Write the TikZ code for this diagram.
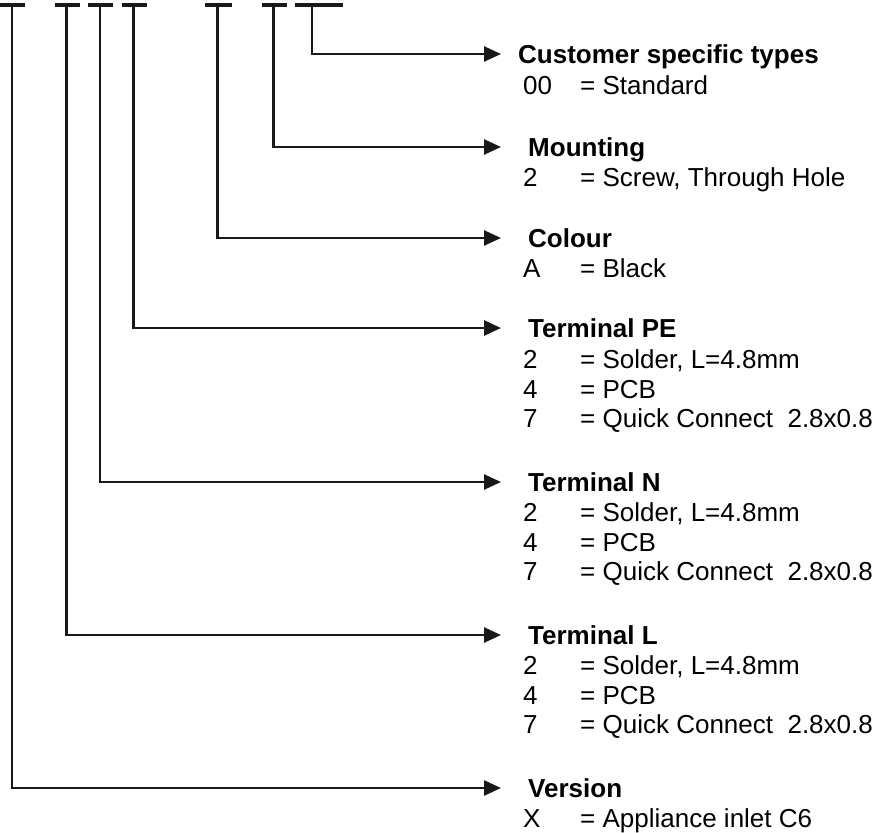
\documentclass[tikz,border=0pt]{standalone}
\usepackage{fontspec}
\setmainfont{Liberation Sans}
\usetikzlibrary{arrows.meta}
\begin{document}
\begin{tikzpicture}[x=1pt,y=-1pt,
  conn/.style={line width=2.6pt,draw=black!90,-{Triangle[length=17pt,width=15pt]}},
  bar/.style={line width=4pt,draw=black!90},
  head/.style={anchor=base west,inner sep=0pt,font=\fontsize{26}{30}\selectfont\bfseries},
  val/.style={anchor=base west,inner sep=0pt,font=\fontsize{26}{30}\selectfont},
]
\useasboundingbox (0,0) rectangle (882,832);
% top bars
\draw[bar] (0,5.5) -- (25,5.5);
\draw[bar] (55,5.5) -- (80,5.5);
\draw[bar] (88,5.5) -- (113,5.5);
\draw[bar] (122,5.5) -- (147,5.5);
\draw[bar] (205,5.5) -- (232,5.5);
\draw[bar] (262,5.5) -- (287,5.5);
\draw[bar] (295,5.5) -- (343,5.5);
% tap points
\coordinate (t1) at (12,5);
\coordinate (t2) at (66.5,5);
\coordinate (t3) at (100,5);
\coordinate (t4) at (133.5,5);
\coordinate (t5) at (217.5,5);
\coordinate (t6) at (273.5,5);
\coordinate (t7) at (312,5);
% arrow ends
\coordinate (a7) at (501,54);
\coordinate (a6) at (501,147);
\coordinate (a5) at (501,238);
\coordinate (a4) at (501,328);
\coordinate (a3) at (501,482);
\coordinate (a2) at (501,635);
\coordinate (a1) at (501,788);
% headings
\node[head] (h7) at (518,63.5) {Customer specific types};
\node[head] (h6) at (528,156.5) {Mounting};
\node[head] (h5) at (528,247.5) {Colour};
\node[head] (h4) at (528,337.5) {Terminal PE};
\node[head] (h3) at (528,491.5) {Terminal N};
\node[head] (h2) at (528,644.5) {Terminal L};
\node[head] (h1) at (528,797.5) {Version};
% values
\node[val] (v7a) at (523,94.5) {00};
\node[val] (d7a) at (580,94.5) {= Standard};
\node[val] (v6a) at (523,186.5) {2};
\node[val] (d6a) at (580,186.5) {= Screw, Through Hole};
\node[val] (v5a) at (523,277.5) {A};
\node[val] (d5a) at (580,277.5) {= Black};
\node[val] (v4a) at (523,368.5) {2};
\node[val] (d4a) at (580,368.5) {= Solder, L=4.8mm};
\node[val] (v4b) at (523,398.5) {4};
\node[val] (d4b) at (580,398.5) {= PCB};
\node[val] (v4c) at (523,427.5) {7};
\node[val] (d4c) at (580,427.5) {= Quick Connect\ \ 2.8x0.8};
\node[val] (v3a) at (523,521.5) {2};
\node[val] (d3a) at (580,521.5) {= Solder, L=4.8mm};
\node[val] (v3b) at (523,551.5) {4};
\node[val] (d3b) at (580,551.5) {= PCB};
\node[val] (v3c) at (523,580.5) {7};
\node[val] (d3c) at (580,580.5) {= Quick Connect\ \ 2.8x0.8};
\node[val] (v2a) at (523,674.5) {2};
\node[val] (d2a) at (580,674.5) {= Solder, L=4.8mm};
\node[val] (v2b) at (523,704.5) {4};
\node[val] (d2b) at (580,704.5) {= PCB};
\node[val] (v2c) at (523,733.5) {7};
\node[val] (d2c) at (580,733.5) {= Quick Connect\ \ 2.8x0.8};
\node[val] (v1a) at (523,827.5) {X};
\node[val] (d1a) at (580,827.5) {= Appliance inlet C6};
% connectors
\draw[conn] (t7) |- (a7);
\draw[conn] (t6) |- (a6);
\draw[conn] (t5) |- (a5);
\draw[conn] (t4) |- (a4);
\draw[conn] (t3) |- (a3);
\draw[conn] (t2) |- (a2);
\draw[conn] (t1) |- (a1);
\end{tikzpicture}
\end{document}
